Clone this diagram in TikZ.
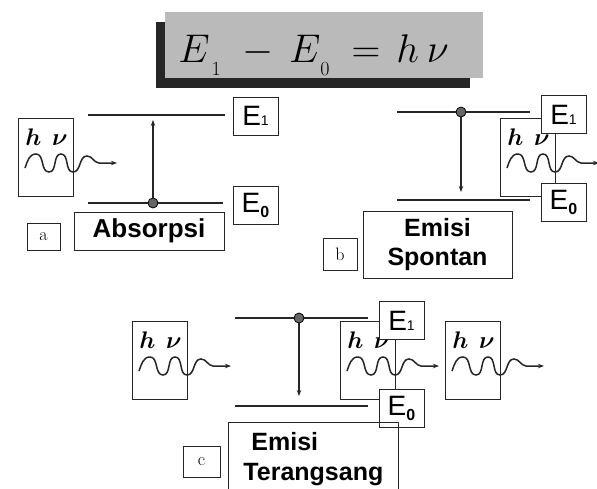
\RequirePackage{fix-cm}
\documentclass[tikz,border=0pt]{standalone}
\usepackage{fontspec}
\setsansfont{Liberation Sans}
\usepackage{bm}
\usetikzlibrary{arrows.meta}

\newcommand{\Eup}{E{\fontsize{14}{14}\selectfont 1}}
\newcommand{\Edown}{E\raisebox{-5pt}{\fontsize{16}{16}\selectfont\bfseries 0}}
\newcommand{\tsub}[1]{\raisebox{-13pt}{\fontsize{20}{20}\selectfont #1}}

\tikzset{
    photon/.pic={
        \draw [box] (-7,-45) rectangle (48,33);
        \node [hnu] (-hnu) at (0,-18) {$\bm{h}\mkern8mu\bm{\nu}$};
        \draw [wave] (0,5)
            to [out=70,in=180] (11,-9)
            to [out=0,in=180] (24,9)
            to [out=0,in=180] (36,-9)
            to [out=0,in=180] (48,9)
            to [out=0,in=180] (62,-7)
            to [out=0,in=175] (74,0)
            -- (92,0);
    }
}

\begin{document}
\begin{tikzpicture}[
        x=1pt, y=-1pt,
    line width=0.8pt,
    box/.style={draw=black!85},
    level/.style={draw=lvx, line width=2.4pt},
    trans/.style={draw=lvx, line width=1.2pt, -{Stealth[length=6pt,width=4.5pt]}},
    wave/.style={draw=black!85, line width=1.5pt, -{Stealth[length=6pt,width=4.5pt]}},
    dot/.style={circle, draw=black, fill=dtx, inner sep=0pt, minimum size=10pt},
    hnu/.style={anchor=base west, inner sep=0pt, font=\fontsize{24}{24}\selectfont},
    elabel/.style={draw=black!85, fill=white, minimum width=45pt, minimum height=38pt,
        inner sep=0pt, font=\sffamily\fontsize{28}{28}\selectfont},
    caption/.style={draw=black!85, inner sep=0pt, align=center,
        font=\sffamily\bfseries\fontsize{25}{29}\selectfont},
    tag/.style={draw=black!85, inner sep=0pt, font=\fontsize{18}{18}\selectfont}
]
    \colorlet{lvx}{black!85}
    \colorlet{dtx}{black!60}
    \colorlet{ttx}{black!27}
    \colorlet{shx}{black!85}

    \clip (0,0) rectangle (597,488);

    % title
    \fill [shx] (156,22) rectangle (470,88);
    \fill [ttx] (165,12) rectangle (483,78);
    \node [anchor=base west, inner sep=0pt, font=\fontsize{40}{40}\selectfont] (title) at (178,62)
        {$E\hspace{2pt}\tsub{1}\hspace{22pt}{-}\hspace{15pt}E\tsub{0}\hspace{22pt}{=}\hspace{16pt}h\hspace{8pt}\nu$};

    % photons
    \pic (pa) at (25,163) {photon};
    \pic (pb) at (507,163) {photon};
    \foreach \name/\px in {pcl/139,pcm/347,pcr/452}
        \pic (\name) at (\px,366) {photon};

    % a: absorpsi
    \coordinate (a1l) at (88,115);
    \coordinate (a1r) at (225,115);
    \coordinate (a0l) at (88,203);
    \coordinate (a0r) at (223,203);
    \draw [level] (a1l) -- (a1r);
    \draw [level] (a0l) -- (a0r);
    \node [dot] (adot) at (153,203) {};
    \coordinate (atip) at (153,120);
    \draw [trans] (adot) -- (atip);
    \node [elabel] (ae1) at (255.5,116) {\Eup};
    \node [elabel] (ae0) at (255.5,205) {\Edown};
    \node [caption, minimum width=150pt, minimum height=38pt,
        font=\sffamily\bfseries\fontsize{26}{26}\selectfont] (capa) at (149,231) {Absorpsi};
    \node [tag, minimum width=33pt, minimum height=27pt] (taga) at (43.5,236.5) {a};

    % b: emisi spontan
    \coordinate (b1l) at (397,112);
    \coordinate (b1r) at (530,112);
    \coordinate (b0l) at (397,200);
    \coordinate (b0r) at (530,200);
    \draw [level] (b1l) -- (b1r);
    \draw [level] (b0l) -- (b0r);
    \node [dot] (bdot) at (461,112) {};
    \coordinate (btip) at (461,192);
    \draw [trans] (bdot) -- (btip);
    \node [elabel] (be1) at (563.5,114.5) {\Eup};
    \node [elabel] (be0) at (563.5,202) {\Edown};
    \node [caption, minimum width=149pt, minimum height=67pt] (capb) at (437.5,244.5) {Emisi\\Spontan};
    \node [tag, minimum width=34pt, minimum height=32pt] (tagb) at (340,254) {b};

    % c: emisi terangsang
    \coordinate (c1l) at (235,318);
    \coordinate (c1r) at (368,318);
    \coordinate (c0l) at (235,406);
    \coordinate (c0r) at (368,406);
    \draw [level] (c1l) -- (c1r);
    \draw [level] (c0l) -- (c0r);
    \node [dot] (cdot) at (299,318) {};
    \coordinate (ctip) at (299,396);
    \draw [trans] (cdot) -- (ctip);
    \node [elabel] (ce1) at (401.5,320.5) {\Eup};
    \node [elabel] (ce0) at (401.5,408) {\Edown};
    \node [caption, anchor=north west, align=left, minimum width=170pt, minimum height=74pt,
        font=\sffamily\bfseries\fontsize{25}{30}\selectfont] (capc) at (228,422)
        {\hspace*{8pt}Emisi\\Terangsang};
    \node [tag, minimum width=37pt, minimum height=31pt] (tagc) at (201.5,461.5) {c};
\end{tikzpicture}
\end{document}
